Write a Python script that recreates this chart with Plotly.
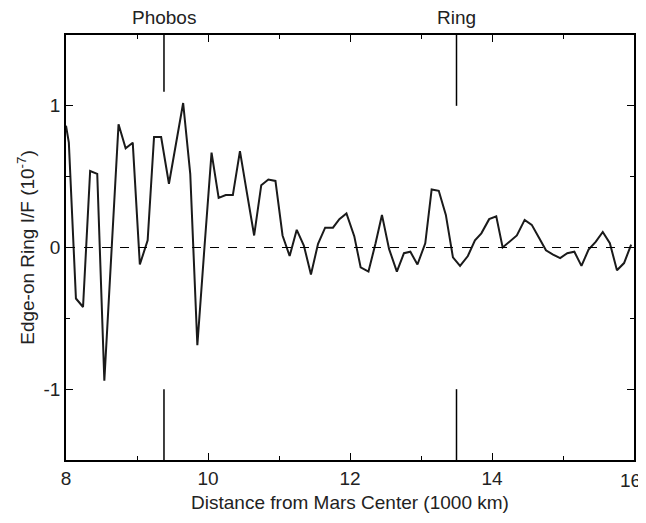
import plotly.graph_objects as go

dist = [8.00, 8.04, 8.14, 8.24, 8.34, 8.44, 8.54, 8.64, 8.74, 8.84, 8.94, 9.04, 9.15, 9.24, 9.34,
        9.45, 9.55, 9.65, 9.75, 9.85, 9.95, 10.05, 10.15, 10.25, 10.35, 10.45, 10.55, 10.65, 10.75,
        10.85, 10.95, 11.05, 11.15, 11.25, 11.35, 11.45, 11.55, 11.65, 11.76, 11.85, 11.95, 12.06,
        12.15, 12.26, 12.36, 12.45, 12.55, 12.66, 12.76, 12.85, 12.95, 13.06, 13.15, 13.25, 13.35,
        13.45, 13.55, 13.66, 13.76, 13.85, 13.96, 14.06, 14.15, 14.25, 14.35, 14.46, 14.56, 14.66,
        14.76, 14.86, 14.96, 15.06, 15.16, 15.26, 15.36, 15.46, 15.56, 15.66, 15.76, 15.86, 15.96]
iof = [0.86, 0.74, -0.36, -0.42, 0.54, 0.52, -0.94, -0.03, 0.87, 0.70, 0.74, -0.12, 0.05, 0.78, 0.78,
       0.45, 0.74, 1.02, 0.52, -0.69, 0.00, 0.67, 0.35, 0.37, 0.37, 0.68, 0.38, 0.085, 0.44,
       0.48, 0.47, 0.085, -0.06, 0.125, 0.014, -0.19, 0.026, 0.14, 0.14, 0.20, 0.24, 0.08,
       -0.14, -0.17, 0.03, 0.23, -0.01, -0.17, -0.04, -0.03, -0.12, 0.03, 0.41, 0.40, 0.23,
       -0.07, -0.13, -0.06, 0.05, 0.10, 0.20, 0.22, 0.0, 0.04, 0.085, 0.195, 0.16, 0.07,
       -0.02, -0.05, -0.075, -0.04, -0.03, -0.13, -0.015, 0.04, 0.11, 0.03, -0.16, -0.11, 0.02]

markers = ["Phobos", "Ring"]
marker_pos = [9.38, 13.5]
marker_top_end = [1.1, 1.0]
marker_bot_end = [-1.0, -1.0]

x_ticks = [8, 10, 12, 14, 16]
x_ticktext = ["8", "10", "12", "14", ""]
last_x_label = "16"
y_ticks = [-1, 0, 1]
y_ticktext = ["-1", "0", "1"]

FS = 19

fig = go.Figure()
fig.add_trace(go.Scatter(x=dist, y=iof, mode="lines",
                         line=dict(color="#1a1a1a", width=2), showlegend=False))

shapes = [dict(type="line", xref="x", yref="y", x0=8, x1=16, y0=0, y1=0,
               line=dict(color="black", width=1.2, dash="dash"))]
annotations = []
for name, xp, te, be in zip(markers, marker_pos, marker_top_end, marker_bot_end):
    shapes.append(dict(type="line", xref="x", yref="y", x0=xp, x1=xp, y0=1.5, y1=te,
                       line=dict(color="black", width=1.5)))
    shapes.append(dict(type="line", xref="x", yref="y", x0=xp, x1=xp, y0=-1.5, y1=be,
                       line=dict(color="black", width=1.5)))
    annotations.append(dict(x=xp, xref="x", y=1, yref="paper", yshift=18, text=name,
                            showarrow=False, font=dict(size=FS, color="#222"),
                            yanchor="middle"))

# last x tick label placed as right-anchored text so it stays inside the page
annotations.append(dict(x=x_ticks[-1], xref="x", y=0, yref="paper", yshift=-20, xshift=9,
                        text=last_x_label, showarrow=False, xanchor="right", yanchor="middle",
                        font=dict(size=FS, color="#222")))

axis_common = dict(showline=True, linecolor="black", linewidth=1.5, mirror="allticks",
                   ticks="inside", ticklen=7, tickwidth=1.2, tickcolor="black",
                   showgrid=False, zeroline=False, automargin=False,
                   ticklabeloverflow="allow",
                   tickfont=dict(size=FS, color="#222"))

# page body has an 8px default margin, so the figure is offset by 8px
fig.update_layout(
    width=638, height=507,
    margin=dict(l=58, r=12, t=27, b=55),
    plot_bgcolor="white", paper_bgcolor="white",
    font=dict(family="Liberation Sans, Arial, sans-serif", color="#222", size=FS),
    shapes=shapes, annotations=annotations,
    xaxis=dict(range=[8, 16], tickvals=x_ticks, ticktext=x_ticktext,
               minor=dict(dtick=1, ticks="inside", ticklen=4, tickcolor="black", showgrid=False),
               title=dict(text="Distance from Mars Center (1000 km)", font=dict(size=FS), standoff=8),
               **axis_common),
    yaxis=dict(range=[-1.5, 1.5], tickvals=y_ticks, ticktext=y_ticktext,
               minor=dict(dtick=0.5, ticks="inside", ticklen=4, tickcolor="black", showgrid=False),
               title=dict(text="Edge-on Ring I/F (10<sup>-7</sup>)", font=dict(size=FS), standoff=4),
               **axis_common),
)

fig.write_html("out.html")
